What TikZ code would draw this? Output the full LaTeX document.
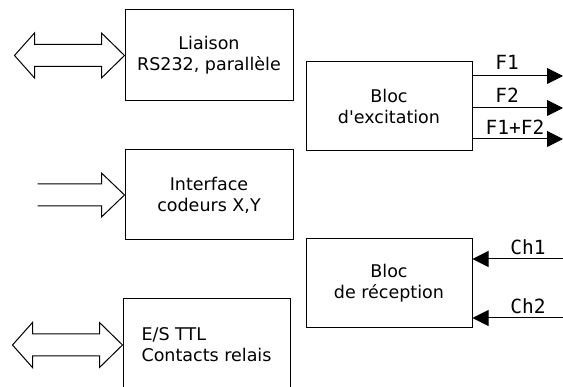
\documentclass[tikz,border=0pt]{standalone}
\usepackage{fontspec}
\setmainfont{DejaVu Sans}
\newfontfamily\sigfont{DejaVu Sans Mono}
\usetikzlibrary{arrows.meta,calc}

\begin{document}
\begin{tikzpicture}[
    x=1pt, y=-1pt,
    bloc/.style={rectangle, draw, line width=1pt, align=center, inner sep=0pt, font={\fontsize{17.5}{21}\selectfont}},
    sig/.style={font={\sigfont\fontsize{19.5}{19.5}\selectfont}, inner sep=0pt, anchor=base},
    fleche/.style={-{Triangle[length=16pt,width=16pt]}, line width=1pt},
    bus/.style={line width=1pt, line join=miter}
]
    \useasboundingbox (0,0) rectangle (563,387);
    \clip (0,0) rectangle (563,387);

    % Liaison
    \node[bloc, minimum width=168, minimum height=91] (liaison) at (209,55.5) {
        Liaison\\RS232, parallèle
    };

    % Interface
    \node[bloc, minimum width=168, minimum height=90] (interface) at (209,195) {
        Interface\\codeurs X,Y
    };

    % E/S
    \node[bloc, align=left, minimum width=167, minimum height=92] (es) at (206.5,345) {
        E/S TTL\\Contacts relais
    };

    % Excitation
    \node[bloc, minimum width=166, minimum height=89] (excit) at (389,106.5) {
        Bloc\\d\textquotesingle excitation
    };

    % Reception
    \node[bloc, minimum width=166, minimum height=89] (recep) at (389,283.5) {
        Bloc\\de réception
    };

    % Bus
    \draw[bus] (liaison.west) -- ++(-23,22.5) -- ++(0,-11.5) -- ++(-67,0) -- ++(0,11.5)
        -- ++(-20,-22.5) -- ++(20,-22.5) -- ++(0,11.5) -- ++(67,0) -- ++(0,-11.5) -- cycle;
    \draw[bus] (interface.west) ++(-87,-11) -- ++(64,0) -- ++(0,-11) -- (interface.west)
        -- ++(-23,22) -- ++(0,-11) -- ++(-64,0);
    \draw[bus] (es.west) -- ++(-23,22.5) -- ++(0,-11.5) -- ++(-67,0) -- ++(0,11.5)
        -- ++(-20,-22.5) -- ++(20,-22.5) -- ++(0,11.5) -- ++(67,0) -- ++(0,-11.5) -- cycle;

    % Sorties
    \coordinate (f1) at (563,76);
    \coordinate (f2) at (563,108);
    \coordinate (f12) at (563,139);
    \draw[fleche] (excit.east |- f1) -- (f1);
    \draw[fleche] (excit.east |- f2) -- (f2);
    \draw[fleche] (excit.east |- f12) -- (f12);
    \node[sig] (lf1) at (507,70) {F1};
    \node[sig] (lf2) at (507,103) {F2};
    \node[sig] (lf12) at (515,135) {F1+F2};

    % Entrees
    \coordinate (ch1) at (563,259);
    \coordinate (ch2) at (563,318);
    \draw[fleche] (ch1) -- (recep.east |- ch1);
    \draw[fleche] (ch2) -- (recep.east |- ch2);
    \node[sig] (lch1) at (528,255) {Ch1};
    \node[sig] (lch2) at (528,314) {Ch2};
\end{tikzpicture}
\end{document}
